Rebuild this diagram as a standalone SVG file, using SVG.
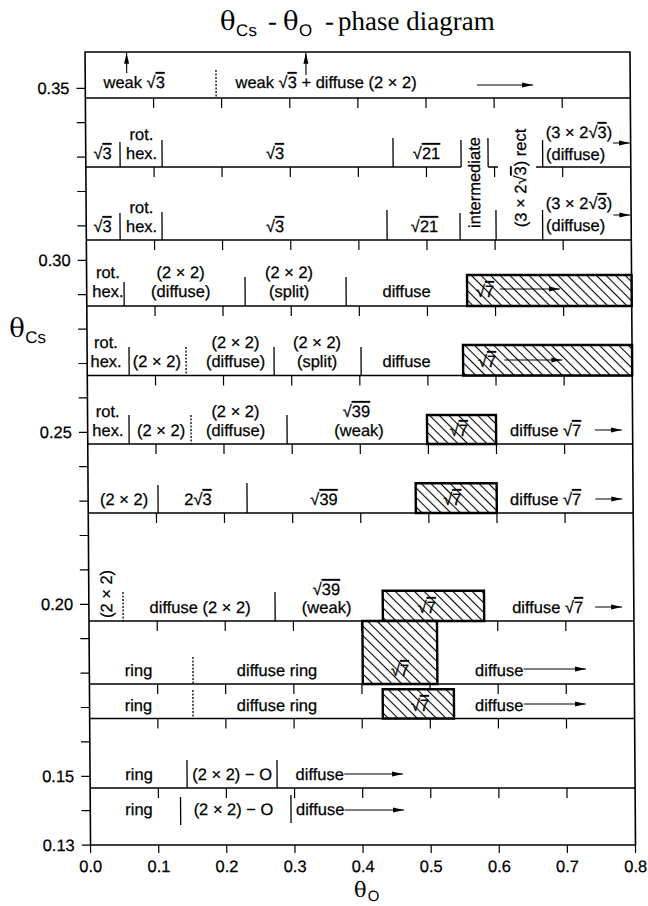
<svg xmlns="http://www.w3.org/2000/svg" width="648" height="906" viewBox="0 0 648 906">
<defs>
<style>
.t{font-family:"Liberation Sans",Arial,sans-serif;font-size:16.5px;fill:#000;stroke:#000;stroke-width:0.25}
.m{text-anchor:middle}
.e{text-anchor:end}
.ov{text-decoration:overline}
.ser{font-family:"Liberation Serif","Times New Roman",serif;font-size:27px;fill:#000}
.th{font-family:"DejaVu Serif","Liberation Serif",serif;font-size:26px}
.sub{font-family:"Liberation Sans",Arial,sans-serif;font-size:17px}
.ln{stroke:#000;fill:none}
.fr{stroke-width:1.6}
.sep{stroke-width:1.4}
.tk{stroke-width:1.2}
.dv{stroke-width:1.3}
.ds{stroke-dasharray:2 1.5;stroke-width:1.3}
.box{fill:url(#hatch);stroke:#000;stroke-width:2.4}
.arr{stroke:#000;stroke-width:1.1;fill:none;marker-end:url(#ah)}
</style>
<pattern id="hatch" patternUnits="userSpaceOnUse" width="6.8" height="6.8" patternTransform="rotate(-45)">
<rect width="6.8" height="6.8" fill="#fff"/>
<line x1="3.4" y1="0" x2="3.4" y2="6.8" stroke="#000" stroke-width="1.1"/>
</pattern>
<marker id="ah" viewBox="0 0 11 6" refX="11" refY="3" markerWidth="11" markerHeight="6" markerUnits="userSpaceOnUse" orient="auto">
<path d="M0,0.5 L11,3 L0,5.5 z" fill="#000"/>
</marker>
</defs>
<rect width="648" height="906" fill="#fff"/>
<g transform="translate(-3.123 0) skewX(0.3977)">
<g id="title">
<text class="ser"><tspan class="th" x="223" y="30">θ</tspan><tspan class="sub" x="239" y="36">Cs</tspan><tspan x="271" y="30">-</tspan><tspan class="th" x="286" y="30">θ</tspan><tspan class="sub" x="302" y="36">O</tspan><tspan x="328" y="30">-</tspan><tspan x="341" y="30">phase diagram</tspan></text>
</g>
<g id="axes">
<rect class="ln fr" x="87.8" y="52" width="544.95" height="793"/>
<path class="ln tk" d="M79 88.3H87.8M79 122.7H87.8M79 157.1H87.8M79 191.5H87.8M79 225.9H87.8M79 260.3H87.8M79 294.7H87.8M79 329.1H87.8M79 363.5H87.8M79 397.9H87.8M79 432.3H87.8M79 466.7H87.8M79 501.1H87.8M79 535.5H87.8M79 569.9H87.8M79 604.3H87.8M79 638.7H87.8M79 673.1H87.8M79 707.5H87.8M79 741.9H87.8M79 776.3H87.8M79 810.7H87.8M79 845.1H87.8"/>
<path class="ln tk" d="M87.8 845V853M156 845V853M224 845V853M292.2 845V853M360.3 845V853M428.4 845V853M496.5 845V853M564.6 845V853M632.75 845V853"/>
<text class="t e" x="72" y="94.3">0.35</text>
<text class="t e" x="72" y="266.3">0.30</text>
<text class="t e" x="72" y="438.3">0.25</text>
<text class="t e" x="72" y="610.3">0.20</text>
<text class="t e" x="72" y="782.3">0.15</text>
<text class="t e" x="72" y="851">0.13</text>
<text class="t m" x="87.8" y="872">0.0</text>
<text class="t m" x="156" y="872">0.1</text>
<text class="t m" x="224" y="872">0.2</text>
<text class="t m" x="292.2" y="872">0.3</text>
<text class="t m" x="360.3" y="872">0.4</text>
<text class="t m" x="428.4" y="872">0.5</text>
<text class="t m" x="496.5" y="872">0.6</text>
<text class="t m" x="564.6" y="872">0.7</text>
<text class="t m" x="632.75" y="872">0.8</text>
<text class="ser"><tspan class="th" x="10" y="337">θ</tspan><tspan class="sub" x="26" y="343">Cs</tspan></text>
<text class="ser" style="font-size:21px"><tspan class="th" style="font-size:21px" x="351" y="897">θ</tspan><tspan class="sub" style="font-size:15px" x="364.5" y="901">O</tspan></text>
</g>
<g id="separators">
<path class="ln sep" d="M87.8 98H632.75M87.8 167H463.1M490.1 167H500M538 167H632.75M87.8 240H632.75M87.8 306H632.75M87.8 375.5H632.75M87.8 444H632.75M87.8 513H632.75M87.8 621H632.75M87.8 684H632.75M87.8 718.5H632.75M87.8 788H632.75"/>
<path class="ln tk" d="M156 98v10M224 98v10M292.2 98v10M360.3 98v10M428.4 98v10M496.5 98v10M564.6 98v10
M156 167v10M224 167v10M292.2 167v10M360.3 167v10M428.4 167v10M496.5 167v10M564.6 167v10
M156 240v10M224 240v10M292.2 240v10M360.3 240v10M428.4 240v10M496.5 240v10M564.6 240v10
M156 306v10M224 306v10M292.2 306v10M360.3 306v10M428.4 306v10M496.5 306v10M564.6 306v10
M156 375.5v10M224 375.5v10M292.2 375.5v10M360.3 375.5v10M428.4 375.5v10M496.5 375.5v10M564.6 375.5v10
M156 444v10M224 444v10M292.2 444v10M360.3 444v10M428.4 444v10M496.5 444v10M564.6 444v10
M156 513v10M224 513v10M292.2 513v10M360.3 513v10M428.4 513v10M496.5 513v10M564.6 513v10
M156 621v10M224 621v10M292.2 621v10M360.3 621v10M428.4 621v10M496.5 621v10M564.6 621v10
M156 684v10M224 684v10M292.2 684v10M360.3 684v10M428.4 684v10M496.5 684v10M564.6 684v10
M156 718.5v10M224 718.5v10M292.2 718.5v10M360.3 718.5v10M428.4 718.5v10M496.5 718.5v10M564.6 718.5v10
M156 788v10M224 788v10M292.2 788v10M360.3 788v10M428.4 788v10M496.5 788v10M564.6 788v10"/>
</g>
<g id="row1">
<text class="t" x="106" y="88">weak √<tspan class="ov">3</tspan></text>
<path class="ln ds" d="M218.6 70V98"/>
<text class="t" x="238" y="88">weak √<tspan class="ov">3</tspan> + diffuse (2 × 2)</text>
</g>
<g id="row2">
<path class="ln dv" d="M122.1 142V167M164.1 140V167M395.1 138V167M463.1 140V167M490.1 138V167M544.7 140V167"/>
<text class="t m" x="104.6" y="159">√<tspan class="ov">3</tspan></text>
<text class="t m" x="143.6" y="140">rot.</text>
<text class="t m" x="143.6" y="159">hex.</text>
<text class="t m" x="277.1" y="159">√<tspan class="ov">3</tspan></text>
<text class="t m" x="428.6" y="159">√<tspan class="ov">21</tspan></text>
<text class="t" x="548" y="138">(3 × 2√<tspan class="ov">3</tspan>)</text>
<text class="t" x="548" y="160">(diffuse)</text>
</g>
<g id="intermediate">
<text class="t m" transform="translate(481.9 182.5) rotate(-90)">intermediate</text>
</g>
<g id="rect">
<text class="t m" transform="translate(528 178) rotate(-90)">(3 × 2√<tspan class="ov">3</tspan>) rect</text>
</g>
<g id="row3">
<path class="ln dv" d="M121.6 213V240M163.6 212V240M388.6 210V240M461.6 213V240M497.6 210V240M544.2 210V240"/>
<text class="t m" x="104.1" y="232">√<tspan class="ov">3</tspan></text>
<text class="t m" x="143.1" y="213">rot.</text>
<text class="t m" x="143.1" y="232">hex.</text>
<text class="t m" x="276.6" y="232">√<tspan class="ov">3</tspan></text>
<text class="t m" x="426.1" y="232">√<tspan class="ov">21</tspan></text>
<text class="t" x="547.5" y="209">(3 × 2√<tspan class="ov">3</tspan>)</text>
<text class="t" x="547.5" y="231">(diffuse)</text>
</g>
<g id="row4">
<rect class="box" x="468.2" y="275" width="164.55" height="31"/>
<path class="ln dv" d="M125.2 282V306M246.2 277V306M347.2 277V306"/>
<text class="t m" x="109" y="278">rot.</text>
<text class="t m" x="109" y="297">hex.</text>
<text class="t m" x="181.8" y="278">(2 × 2)</text>
<text class="t m" x="181.8" y="297">(diffuse)</text>
<text class="t m" x="290.2" y="278">(2 × 2)</text>
<text class="t m" x="290.2" y="297">(split)</text>
<text class="t m" x="407.7" y="297">diffuse</text>
<text class="t m" x="486.2" y="297">√<tspan class="ov">7</tspan></text>
</g>
<g id="row5">
<rect class="box" x="463.7" y="345" width="169.05" height="30.5"/>
<path class="ln dv" d="M129.7 347V375.5M274.7 347V375.5M361.7 347V375.5"/>
<path class="ln ds" d="M186.7 347V375.5"/>
<text class="t m" x="106.7" y="348">rot.</text>
<text class="t m" x="106.7" y="367">hex.</text>
<text class="t m" x="157.5" y="367">(2 × 2)</text>
<text class="t m" x="236.2" y="348">(2 × 2)</text>
<text class="t m" x="236.2" y="367">(diffuse)</text>
<text class="t m" x="317.7" y="348">(2 × 2)</text>
<text class="t m" x="317.7" y="367">(split)</text>
<text class="t m" x="407.2" y="367">diffuse</text>
<text class="t m" x="487.7" y="367">√<tspan class="ov">7</tspan></text>
</g>
<g id="row6">
<rect class="box" x="427.2" y="415" width="69" height="29"/>
<path class="ln dv" d="M129.2 415V444M287.2 415V444"/>
<path class="ln ds" d="M191.2 415V444"/>
<text class="t m" x="108" y="417">rot.</text>
<text class="t m" x="108" y="436">hex.</text>
<text class="t m" x="161.2" y="436">(2 × 2)</text>
<text class="t m" x="235.7" y="417">(2 × 2)</text>
<text class="t m" x="235.7" y="436">(diffuse)</text>
<text class="t m" x="356.7" y="417">√<tspan class="ov">39</tspan></text>
<text class="t m" x="359.2" y="436">(weak)</text>
<text class="t m" x="459" y="436">√<tspan class="ov">7</tspan></text>
<text class="t" x="510.2" y="436">diffuse √<tspan class="ov">7</tspan></text>
</g>
<g id="row7">
<rect class="box" x="415.4" y="483.3" width="81" height="29.7"/>
<path class="ln dv" d="M157.7 485V513M246.7 483V513"/>
<text class="t m" x="123.7" y="505">(2 × 2)</text>
<text class="t m" x="197.7" y="505">2√<tspan class="ov">3</tspan></text>
<text class="t m" x="323.7" y="505">√<tspan class="ov">39</tspan></text>
<text class="t m" x="452" y="505">√<tspan class="ov">7</tspan></text>
<text class="t" x="509.7" y="505">diffuse √<tspan class="ov">7</tspan></text>
</g>
<g id="row8">
<rect class="box" x="381.7" y="590.7" width="101.3" height="30.3"/>
<path class="ln dv" d="M274 592V621"/>
<path class="ln ds" d="M122 592V621"/>
<text class="t m" transform="translate(111 594) rotate(-90)">(2 × 2)</text>
<text class="t m" x="199" y="613">diffuse (2 × 2)</text>
<text class="t m" x="325.5" y="595">√<tspan class="ov">39</tspan></text>
<text class="t m" x="325.5" y="613">(weak)</text>
<text class="t m" x="425.7" y="613">√<tspan class="ov">7</tspan></text>
<text class="t" x="511" y="613">diffuse √<tspan class="ov">7</tspan></text>
</g>
<g id="row9">
<rect class="box" x="361.2" y="621" width="74.6" height="63"/>
<path class="ln ds" d="M191.5 657V684"/>
<text class="t m" x="137" y="676">ring</text>
<text class="t m" x="275.5" y="676">diffuse ring</text>
<text class="t m" x="398.5" y="676">√<tspan class="ov">7</tspan></text>
<text class="t" x="473.5" y="676">diffuse</text>
</g>
<g id="row10">
<rect class="box" x="381" y="689.3" width="71.2" height="29.2"/>
<path class="ln ds" d="M191.2 690V718.5"/>
<text class="t m" x="136.6" y="711">ring</text>
<text class="t m" x="275.2" y="711">diffuse ring</text>
<text class="t m" x="418.2" y="711">√<tspan class="ov">7</tspan></text>
<text class="t" x="473.2" y="711">diffuse</text>
</g>
<g id="row11">
<path class="ln dv" d="M184.8 760V788M274.8 760V788"/>
<text class="t m" x="136.8" y="780">ring</text>
<text class="t m" x="229.8" y="780">(2 × 2) − O</text>
<text class="t" x="293.3" y="780">diffuse</text>
</g>
<g id="row12">
<path class="ln dv" d="M178.1 797V825M288.5 795V823"/>
<text class="t m" x="136.5" y="815">ring</text>
<text class="t m" x="231" y="815">(2 × 2) − O</text>
<text class="t" x="293.5" y="815">diffuse</text>
</g>
<g id="connectors">
<path class="arr" d="M129.3 73V52.8"/>
<path class="arr" d="M308.6 75V52.8"/>
<path class="arr" d="M479.6 85H535.6"/>
<path class="arr" d="M615 143H632"/>
<path class="arr" d="M615 215H632"/>
<path class="arr" d="M501 289H561"/>
<path class="arr" d="M505 360H563"/>
<path class="arr" d="M595 430H622"/>
<path class="arr" d="M595 499H622"/>
<path class="arr" d="M594 607H621"/>
<path class="arr" d="M522 669H584.5"/>
<path class="arr" d="M522 704H584"/>
<path class="arr" d="M342 774H400.8"/>
<path class="arr" d="M342 810H401.5"/>
</g>
</g>
</svg>
